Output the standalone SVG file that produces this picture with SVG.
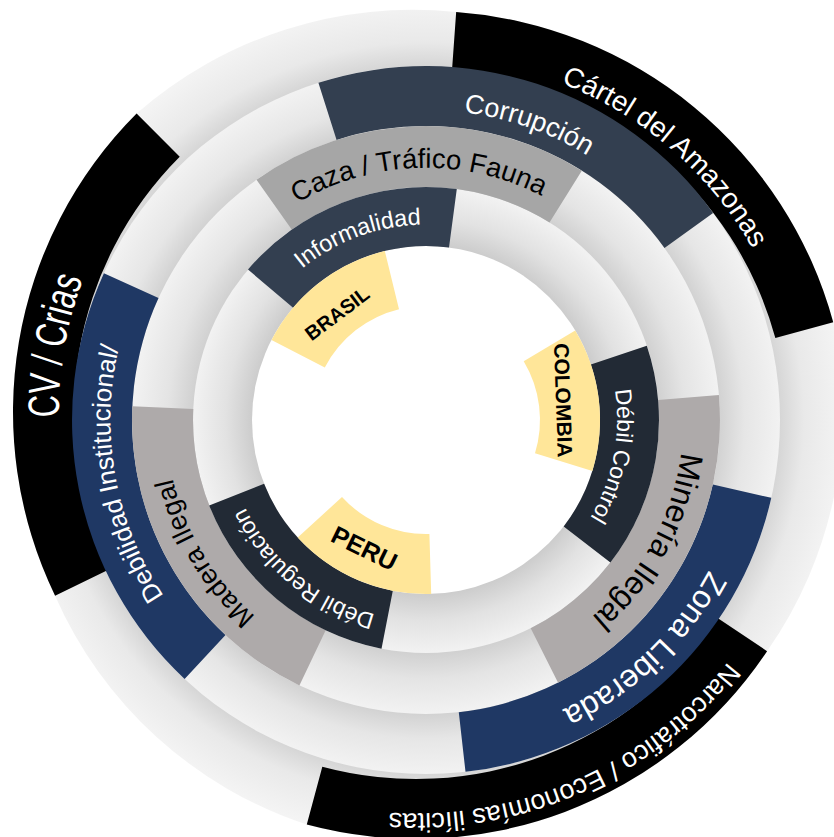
<svg xmlns="http://www.w3.org/2000/svg" width="834" height="837" viewBox="0 0 834 837">
<style>
.t{font-family:"Liberation Sans",Arial,sans-serif}
.w{fill:#ffffff}
.k{fill:#000000}
.b{font-weight:bold}
.blk{fill:#000000}
.slate{fill:#333f50}
.navy{fill:#1f3864}
.dark{fill:#222a35}
.g1{fill:#a6a6a6}
.g2{fill:#aeaaaa}
.yel{fill:#ffe699}
</style>
<defs>
<radialGradient id="gr1" gradientUnits="userSpaceOnUse" cx="426" cy="420" r="420">
<stop offset="0.84" stop-color="#d5d5d5"/><stop offset="0.9" stop-color="#e9e9e9"/><stop offset="1" stop-color="#f4f4f4"/>
</radialGradient>
<radialGradient id="gr2" gradientUnits="userSpaceOnUse" cx="426" cy="420" r="354">
<stop offset="0.83" stop-color="#d2d2d2"/><stop offset="0.9" stop-color="#e6e6e6"/><stop offset="1" stop-color="#f2f2f2"/>
</radialGradient>
<radialGradient id="gr3" gradientUnits="userSpaceOnUse" cx="426" cy="420" r="294">
<stop offset="0.79" stop-color="#d0d0d0"/><stop offset="0.88" stop-color="#e4e4e4"/><stop offset="1" stop-color="#f2f2f2"/>
</radialGradient>
<radialGradient id="gr4" gradientUnits="userSpaceOnUse" cx="426" cy="420" r="233">
<stop offset="0.75" stop-color="#cdcdcd"/><stop offset="0.86" stop-color="#e2e2e2"/><stop offset="1" stop-color="#f2f2f2"/>
</radialGradient>
<path id="pCartel" d="M189.2,142.2 A375,375 0 0 1 747.9,625.3"/>
<path id="pCorr" d="M155.4,268.8 A310,310 0 0 1 732.0,469.6"/>
<path id="pDeb" d="M427.4,735.6 A315.6,315.6 0 0 1 316.8,123.9"/>
<path id="pZona" d="M692.5,242.9 A320,320 0 0 1 236.1,677.6"/>
<path id="pNarco" d="M800.7,321.1 A396.5,396.5 0 0 1 87.3,638.7"/>
<path id="pCaza" d="M176.6,383.6 A252,252 0 0 1 672.8,368.9"/>
<path id="pMin" d="M586.2,219.0 A257,257 0 0 1 344.2,663.7"/>
<path id="pMad" d="M519.2,662.7 A260,260 0 0 1 255.4,223.8"/>
<path id="pInf" d="M233.7,455.3 A195.5,195.5 0 0 1 594.6,321.1"/>
<path id="pDC" d="M494.0,241.5 A191,191 0 0 1 423.2,611.0"/>
<path id="pDR" d="M556.7,572.7 A201,201 0 0 1 251.0,321.2"/>
<path id="pCV" d="M307.0,765.6 A376,376 0 0 1 434.3,36.0"/>
</defs>

<g id="background">
<path fill="url(#gr1)" d="M55.07,595.67 A422,422 0 0 1 136.6,113.6 A418,418 0 0 1 456.17,12.08 A422,422 0 0 1 833.24,322.36 A418,418 0 0 1 767.08,651.14 A422,422 0 0 1 306.78,824.62 A418,418 0 0 1 55.07,595.67 Z"/>
<circle cx="426" cy="420" r="354" fill="url(#gr2)"/>
<circle cx="426" cy="420" r="294" fill="url(#gr3)"/>
<circle cx="426" cy="420" r="233" fill="url(#gr4)"/>
<circle cx="426" cy="420" r="174" fill="#ffffff"/>
</g>

<g id="connectors"></g>

<g id="node-cv">
<path class="blk" d="M55.07,595.67 A422,422 0 0 1 136.6,113.6 L179.73,156.73 A361,361 0 0 0 109.99,569.12 Z"/>
<text class="t w" font-size="44"><textPath href="#pCV" startOffset="50%" text-anchor="middle" textLength="141" lengthAdjust="spacingAndGlyphs">CV / Crias</textPath></text>
</g>
<g id="node-cartel">
<path class="blk" d="M456.17,12.08 A422,422 0 0 1 833.24,322.36 L775.34,338.09 A362,362 0 0 0 451.88,71.93 Z"/>
<text class="t w" font-size="28"><textPath href="#pCartel" startOffset="50%" text-anchor="middle">Cártel del Amazonas</textPath></text>
</g>
<g id="node-narco">
<path class="blk" d="M767.08,651.14 A422,422 0 0 1 306.78,824.62 L322.31,766.67 A362,362 0 0 0 717.17,617.85 Z"/>
<text class="t w" font-size="27"><textPath href="#pNarco" startOffset="50%" text-anchor="middle">Narcotráfico / Economías ilícitas</textPath></text>
</g>

<g id="node-debilidad">
<path class="navy" d="M184.6,678.9 A354,354 0 0 1 103.9,273.2 L158.5,298.1 A294,294 0 0 0 225.5,635.0 Z"/>
<text class="t w" font-size="26"><textPath href="#pDeb" startOffset="50%" text-anchor="middle">Debilidad Institucional/</textPath></text>
</g>
<g id="node-corrupcion">
<path class="slate" d="M318.4,82.8 A354,354 0 0 1 713.1,212.9 L664.5,248.0 A294,294 0 0 0 336.6,139.9 Z"/>
<text class="t w" font-size="27"><textPath href="#pCorr" startOffset="50%" text-anchor="middle">Corrupción</textPath></text>
</g>
<g id="node-zona">
<path class="navy" d="M771.3,497.8 A354,354 0 0 1 465.5,771.8 L458.8,712.2 A294,294 0 0 0 712.8,484.6 Z"/>
<text class="t w" font-size="32"><textPath href="#pZona" startOffset="50%" text-anchor="middle">Zona Liberada</textPath></text>
</g>

<g id="node-caza">
<path class="g1" d="M256.5,179.8 A294,294 0 0 1 581.8,170.7 L549.5,222.4 A233,233 0 0 0 291.7,229.6 Z"/>
<text class="t k" font-size="27.5"><textPath href="#pCaza" startOffset="50%" text-anchor="middle">Caza / Tráfico Fauna</textPath></text>
</g>
<g id="node-mineria">
<path class="g2" d="M718.9,394.9 A294,294 0 0 1 558.1,682.7 L530.7,628.2 A233,233 0 0 0 658.2,400.1 Z"/>
<text class="t k" font-size="32"><textPath href="#pMin" startOffset="50%" text-anchor="middle">Minería Ilegal</textPath></text>
</g>
<g id="node-madera">
<path class="g2" d="M299.4,685.4 A294,294 0 0 1 132.3,406.2 L193.3,409.0 A233,233 0 0 0 325.7,630.3 Z"/>
<text class="t k" font-size="27"><textPath href="#pMad" startOffset="50%" text-anchor="middle">Madera Ilegal</textPath></text>
</g>

<g id="node-informalidad">
<path class="slate" d="M248.0,269.6 A233,233 0 0 1 456.8,189.1 L449.0,247.5 A174,174 0 0 0 293.1,307.7 Z"/>
<text class="t w" font-size="23.5"><textPath href="#pInf" startOffset="50%" text-anchor="middle">Informalidad</textPath></text>
</g>
<g id="node-debil-control">
<path class="dark" d="M646.8,345.7 A233,233 0 0 1 610.4,562.5 L563.7,526.4 A174,174 0 0 0 590.9,364.5 Z"/>
<text class="t w" font-size="23"><textPath href="#pDC" startOffset="50%" text-anchor="middle">Débil Control</textPath></text>
</g>
<g id="node-debil-regulacion">
<path class="dark" d="M381.5,648.7 A233,233 0 0 1 209.2,505.4 L264.1,483.8 A174,174 0 0 0 392.8,590.8 Z"/>
<text class="t w" font-size="23"><textPath href="#pDR" startOffset="50%" text-anchor="middle">Débil Regulación</textPath></text>
</g>

<g id="node-brasil">
<path class="yel" d="M271.5,339.9 A174,174 0 0 1 384.8,251.0 L399.0,309.2 A114,114 0 0 0 324.8,367.5 Z"/>
<text class="t k b" font-size="20" x="337" y="320.6" text-anchor="middle" transform="rotate(-37 337 313.4)">BRASIL</text>
</g>
<g id="node-colombia">
<path class="yel" d="M575.2,330.4 A174,174 0 0 1 592.4,470.9 L535.0,453.3 A114,114 0 0 0 523.7,361.3 Z"/>
<text class="t k b" font-size="21" x="563.5" y="408" text-anchor="middle" transform="rotate(88 563.5 400.4)">COLOMBIA</text>
</g>
<g id="node-peru">
<path class="yel" d="M431.2,593.9 A174,174 0 0 1 297.7,537.6 L342.0,497.0 A114,114 0 0 0 429.4,534.0 Z"/>
<text class="t k b" font-size="25" x="364.5" y="557" text-anchor="middle" transform="rotate(26 364.5 548)">PERU</text>
</g>
</svg>
